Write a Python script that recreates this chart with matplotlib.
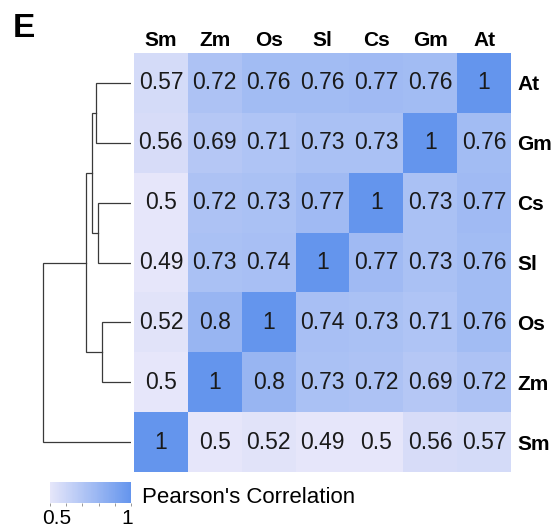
import numpy as np
import matplotlib
matplotlib.use("Agg")
import matplotlib.pyplot as plt
from matplotlib.colors import LinearSegmentedColormap, Normalize
from matplotlib.colorbar import ColorbarBase
from matplotlib.transforms import ScaledTranslation

plt.rcParams["font.family"] = ["Liberation Sans", "DejaVu Sans"]

# ---- data ----
col_labels = ["Sm", "Zm", "Os", "Sl", "Cs", "Gm", "At"]
row_labels = ["At", "Gm", "Cs", "Sl", "Os", "Zm", "Sm"]
corr = np.array([
    [0.57, 0.72, 0.76, 0.76, 0.77, 0.76, 1.00],
    [0.56, 0.69, 0.71, 0.73, 0.73, 1.00, 0.76],
    [0.50, 0.72, 0.73, 0.77, 1.00, 0.73, 0.77],
    [0.49, 0.73, 0.74, 1.00, 0.77, 0.73, 0.76],
    [0.52, 0.80, 1.00, 0.74, 0.73, 0.71, 0.76],
    [0.50, 1.00, 0.80, 0.73, 0.72, 0.69, 0.72],
    [1.00, 0.50, 0.52, 0.49, 0.50, 0.56, 0.57],
])
# dendrogram merges (child a, child b, height); leaves are row indices 0..6
merges = [(4, 5, 0.200),   # Os + Zm  -> node 7
          (2, 3, 0.228),   # Cs + Sl  -> node 8
          (0, 1, 0.246),   # At + Gm  -> node 9
          (9, 8, 0.270),   # -> node 10
          (10, 7, 0.315),  # -> node 11
          (11, 6, 0.615)]  # + Sm -> root
cbar_ticks = [0.5, 0.6, 0.7, 0.8, 0.9, 1.0]

cmap = LinearSegmentedColormap.from_list("lav_blue", ["#E6E6FA", "#6495ED"])
norm = Normalize(vmin=0.5, vmax=1.0)

W, H = 558, 531
fig = plt.figure(figsize=(W / 100, H / 100), dpi=100)

# ---- heatmap ----
hx0, hx1, hy0, hy1 = 134, 511, 53, 472
ax = fig.add_axes([hx0 / W, 1 - hy1 / H, (hx1 - hx0) / W, (hy1 - hy0) / H])
ax.pcolormesh(np.arange(8), np.arange(8), corr, cmap=cmap, norm=norm)
ax.set_xlim(0, 7); ax.set_ylim(7, 0)
ax.axis("off")
for i in range(7):
    for j in range(7):
        ax.text(j + 0.5, i + 0.5, f"{corr[i, j]:g}", ha="center", va="center",
                fontsize=16.5, color="#1a1a1a")
for j, c in enumerate(col_labels):
    ax.text(j + 0.5, -0.11, c, ha="center", va="baseline", fontsize=15,
            fontweight="bold")
for i, r in enumerate(row_labels):
    ax.text(7.12, i + 0.5, r, ha="left", va="center_baseline", fontsize=15,
            fontweight="bold")

# ---- dendrogram ----
leaf_x = 130.7
dax = fig.add_axes([0, 1 - hy1 / H, leaf_x / W, (hy1 - hy0) / H])
dax.set_xlim(leaf_x / 142, 0); dax.set_ylim(7, 0)
dax.axis("off")
pos = {k: (k + 0.5, 0.0) for k in range(7)}
for n, (a, b, h) in enumerate(merges):
    ya, xa = pos[a]
    yb, xb = pos[b]
    dax.plot([xa, h, h, xb], [ya, ya, yb, yb], color="#3a3a3a", lw=0.9,
             solid_joinstyle="miter")
    pos[7 + n] = ((ya + yb) / 2, h)

# ---- colorbar ----
cax = fig.add_axes([50 / W, 1 - 503 / H, 81 / W, 21.3 / H])
cb = ColorbarBase(cax, cmap=cmap, norm=norm, orientation="horizontal")
cb.outline.set_visible(False)
cb.set_ticks(cbar_ticks)
cb.set_ticklabels(["0.5", "", "", "", "", "1"])
cax.tick_params(axis="x", length=2.5, width=0.6, color="#888888",
                labelsize=15, pad=2)
labs = cax.get_xticklabels()
labs[0].set_transform(labs[0].get_transform() + ScaledTranslation(0.07, 0, fig.dpi_scale_trans))
labs[-1].set_transform(labs[-1].get_transform() + ScaledTranslation(-0.04, 0, fig.dpi_scale_trans))
fig.text(141.7 / W, 1 - 503 / H, "Pearson's Correlation", fontsize=16,
         ha="left", va="baseline")

fig.text(13 / W, 1 - 37.3 / H, "E", fontsize=24, fontweight="bold",
         ha="left", va="baseline")

fig.savefig("out.png", dpi=100)
